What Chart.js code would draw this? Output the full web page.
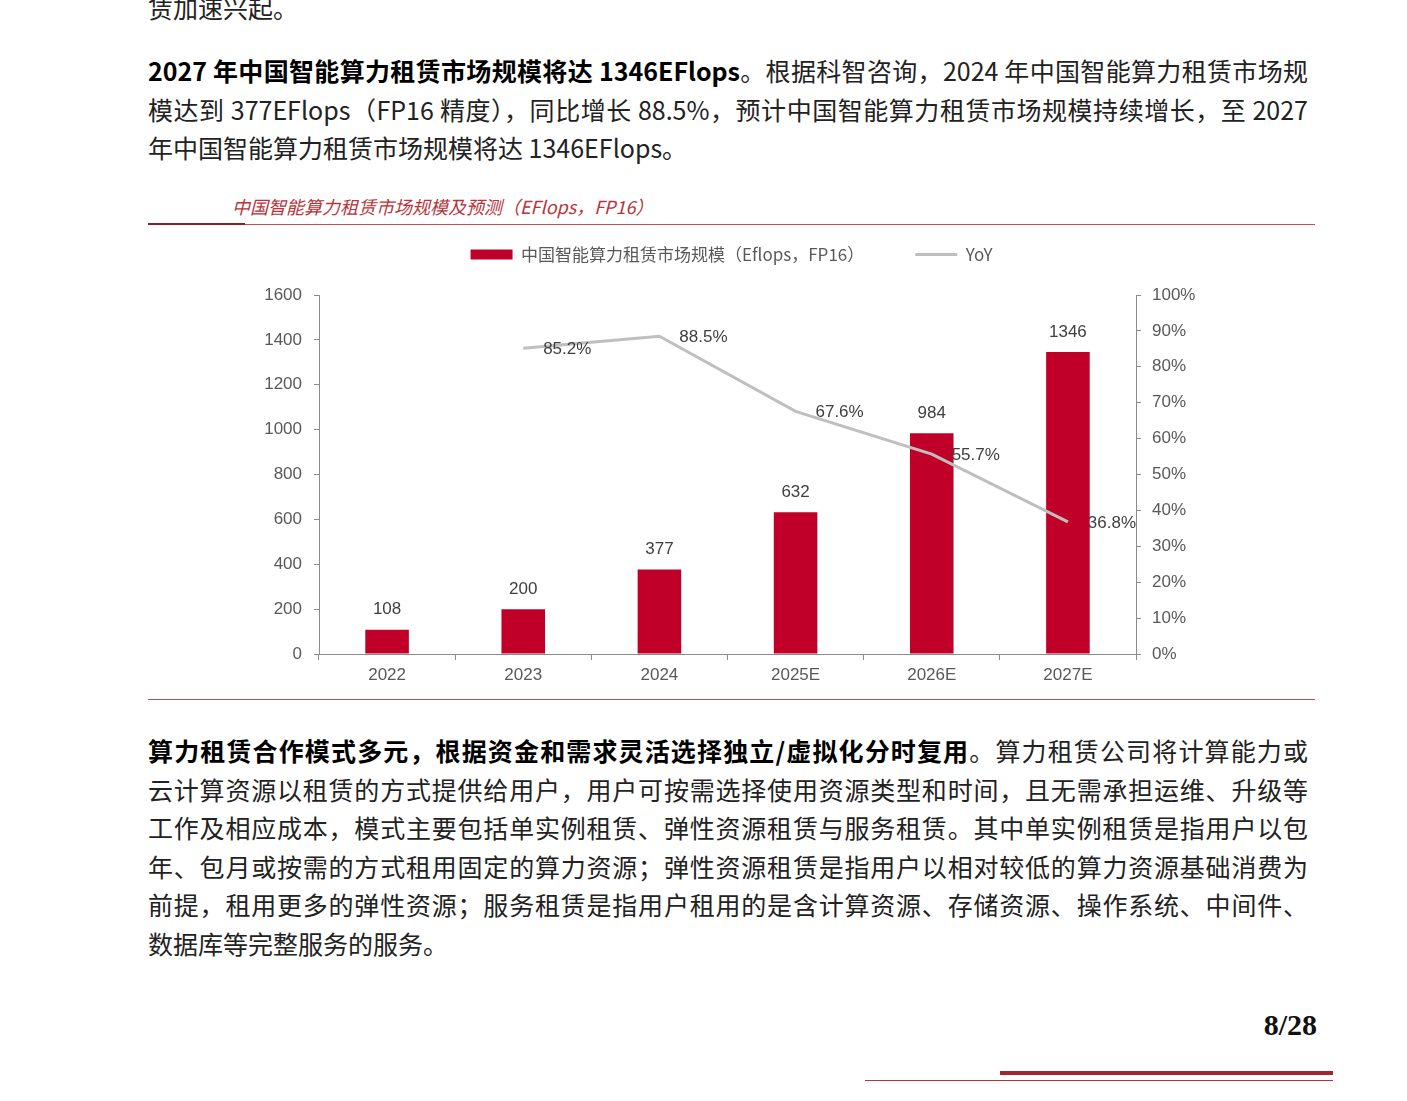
<!DOCTYPE html>
<html>
<head>
<meta charset="utf-8">
<script src="https://cdn.jsdelivr.net/npm/chart.js@4.4.1/dist/chart.umd.min.js"></script>
<style>
    html, body { margin: 0; padding: 0; background: #fff; }
    body { width: 1407px; height: 1101px; position: relative; overflow: hidden; font-family: "Noto Sans CJK SC", "Noto Sans", sans-serif; }
    .para { position: absolute; left: 148px; width: 1160px; font-size: 25px; line-height: 38.5px; color: #222; }
    .para .full { text-align: justify; text-align-last: justify; }
    .para b { color: #000; }
    .chart-title { position: absolute; left: 232px; top: 193px; font-size: 18px; font-style: italic; color: #b8333a; white-space: nowrap; }
    .rule { position: absolute; }
    #chartBox { position: absolute; left: 148px; top: 195px; }
    .page-no { position: absolute; right: 90px; top: 1008px; font: bold 30px "Liberation Serif", "DejaVu Serif", serif; color: #111; }
</style>
</head>
<body>

<div class="para" style="top:-12px;"><div>赁加速兴起。</div></div>

<div class="para" style="top:51px;">
    <div class="full"><b>2027 年中国智能算力租赁市场规模将达 1346EFlops</b>。根据科智咨询，2024 年中国智能算力租赁市场规</div>
    <div class="full">模达到 377EFlops（FP16 精度），同比增长 88.5%，预计中国智能算力租赁市场规模持续增长，至 2027</div>
    <div>年中国智能算力租赁市场规模将达 1346EFlops。</div>
</div>

<div class="chart-title">中国智能算力租赁市场规模及预测（EFlops，FP16）</div>
<div class="rule" style="left:148px; top:224px; width:1167px; height:1px; background:#c0504d;"></div>
<div class="rule" style="left:148px; top:223px; width:97px; height:2px; background:#8e1f25;"></div>
<div class="rule" style="left:148px; top:699px; width:1167px; height:1px; background:#c0504d;"></div>

<div id="chartBox"><canvas id="rentChart" width="1167" height="503" style="width:1167px;height:503px;"></canvas></div>

<div class="para" style="top:731px;">
    <div class="full"><b>算力租赁合作模式多元，根据资金和需求灵活选择独立/虚拟化分时复用</b>。算力租赁公司将计算能力或</div>
    <div class="full">云计算资源以租赁的方式提供给用户，用户可按需选择使用资源类型和时间，且无需承担运维、升级等</div>
    <div class="full">工作及相应成本，模式主要包括单实例租赁、弹性资源租赁与服务租赁。其中单实例租赁是指用户以包</div>
    <div class="full">年、包月或按需的方式租用固定的算力资源；弹性资源租赁是指用户以相对较低的算力资源基础消费为</div>
    <div class="full">前提，租用更多的弹性资源；服务租赁是指用户租用的是含计算资源、存储资源、操作系统、中间件、</div>
    <div>数据库等完整服务的服务。</div>
</div>

<div class="page-no">8/28</div>
<div class="rule" style="left:1000px; top:1071px; width:333px; height:4px; background:#a3262e;"></div>
<div class="rule" style="left:865px; top:1080px; width:468px; height:1px; background:#b8333a;"></div>

<script>
// 中国智能算力租赁市场规模 (EFlops, FP16)
const categories = ["2022", "2023", "2024", "2025E", "2026E", "2027E"];
const marketSize = [108, 200, 377, 632, 984, 1346];
const yoyGrowth = [null, 85.2, 88.5, 67.6, 55.7, 36.8];

const sizeLabel = "中国智能算力租赁市场规模（Eflops，FP16）";
const yoyLabel = "YoY";

const axisFont = { family: '"Liberation Sans", Arial, sans-serif', size: 17 };
const axisGray = "#8c8c8c";
const tickGray = "#595959";

// leave room under the legend like the original layout
const legendSpace = {
    id: "legendSpace",
    beforeInit(chart) {
        const fit = chart.legend.fit;
        chart.legend.fit = function () {
            fit.call(this);
            this.height = 100;
        };
    }
};

// numbers above bars and next to the YoY points
const valueLabels = {
    id: "valueLabels",
    afterDatasetsDraw(chart) {
        const ctx = chart.ctx;
        ctx.save();
        ctx.font = '17px "Liberation Sans", Arial, sans-serif';
        ctx.fillStyle = "#404040";
        ctx.textAlign = "center";
        ctx.textBaseline = "middle";
        chart.getDatasetMeta(0).data.forEach((bar, i) => {
            ctx.fillText(String(marketSize[i]), bar.x, bar.y - 20);
        });
        chart.getDatasetMeta(1).data.forEach((pt, i) => {
            if (yoyGrowth[i] == null) return;
            ctx.fillText(yoyGrowth[i].toFixed(1) + "%", pt.x + 44, pt.y + 1);
        });
        ctx.restore();
    }
};

new Chart(document.getElementById("rentChart").getContext("2d"), {
    type: "bar",
    data: {
        labels: categories,
        datasets: [
            {
                label: sizeLabel,
                data: marketSize,
                backgroundColor: "#c00029",
                borderWidth: 0,
                pointStyle: "rect",
                categoryPercentage: 1,
                barPercentage: 0.32,
                yAxisID: "y",
                order: 1
            },
            {
                type: "line",
                label: yoyLabel,
                data: yoyGrowth,
                borderColor: "#bfbfbf",
                backgroundColor: "#bfbfbf",
                borderWidth: 3,
                pointRadius: 0,
                pointStyle: "line",
                tension: 0,
                yAxisID: "y1",
                order: 0
            }
        ]
    },
    options: {
        responsive: false,
        animation: false,
        layout: { padding: 0 },
        plugins: {
            legend: {
                position: "top",
                labels: {
                    usePointStyle: true,
                    pointStyleWidth: 42,
                    boxHeight: 10,
                    padding: 51,
                    color: tickGray,
                    font: { family: '"Noto Sans CJK SC", sans-serif', size: 17 },
                    sort: (a, b) => a.datasetIndex - b.datasetIndex
                }
            },
            tooltip: { enabled: false }
        },
        scales: {
            x: {
                grid: { drawOnChartArea: false, tickLength: 6, color: axisGray },
                border: { color: axisGray },
                ticks: { font: axisFont, color: tickGray, padding: 5 },
                afterFit(scale) { scale.height = 44; }
            },
            y: {
                position: "left",
                min: 0,
                max: 1600,
                ticks: { stepSize: 200, font: axisFont, color: tickGray, padding: 12, callback: v => String(v) },
                grid: { drawOnChartArea: false, tickLength: 5, color: axisGray },
                border: { color: axisGray },
                afterFit(scale) { scale.width = 171; }
            },
            y1: {
                position: "right",
                min: 0,
                max: 100,
                ticks: { stepSize: 10, font: axisFont, color: tickGray, padding: 11, callback: v => v + "%" },
                grid: { drawOnChartArea: false, tickLength: 5, color: axisGray },
                border: { color: axisGray },
                afterFit(scale) { scale.width = 179; }
            }
        }
    },
    plugins: [legendSpace, valueLabels]
});
</script>
</body>
</html>
